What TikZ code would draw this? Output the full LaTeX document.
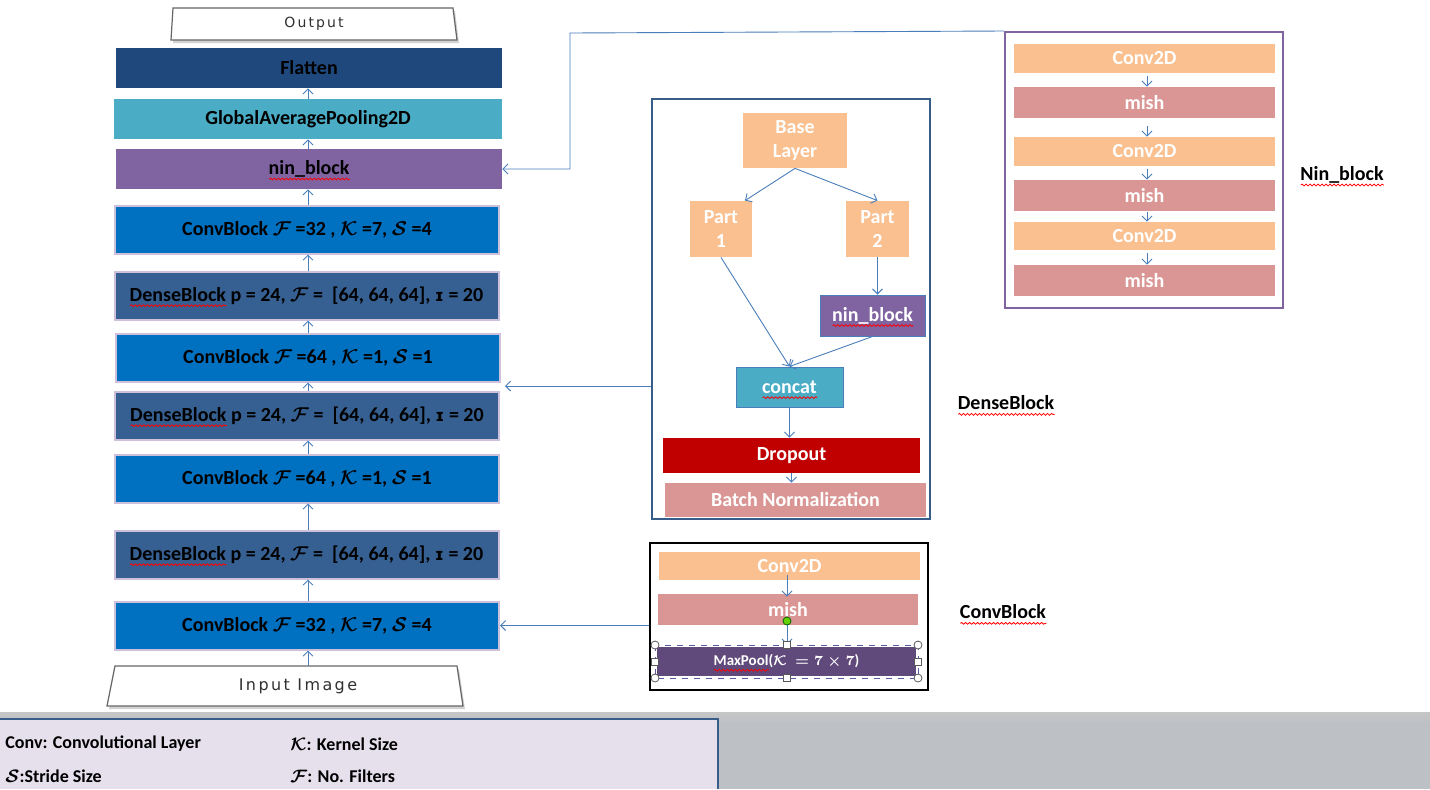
\documentclass[tikz,border=0pt]{standalone}
\usepackage{amsmath}
\usepackage{fontspec}
\setmainfont{Carlito}
\newfontfamily\djv{DejaVu Sans}
\newfontfamily\trapf[LetterSpace=15]{DejaVu Sans}
\usetikzlibrary{arrows.meta,calc,decorations.pathmorphing}
\definecolor{cFlat}{HTML}{1F497D}
\definecolor{cGap}{HTML}{4BACC6}
\definecolor{cNin}{HTML}{8064A2}
\definecolor{cCB}{HTML}{0070C0}
\definecolor{cDB}{HTML}{366092}
\definecolor{cBord}{HTML}{CCC0DA}
\definecolor{cOr}{HTML}{FAC090}
\definecolor{cPink}{HTML}{DA9694}
\definecolor{cRed}{HTML}{C00000}
\definecolor{cMax}{HTML}{604A7B}
\definecolor{arrowblue}{HTML}{4A7EBB}
\definecolor{cLeg}{HTML}{E5E0EC}
\definecolor{cGray}{HTML}{BDC0C4}
\definecolor{cDenseB}{HTML}{385D8A}
\definecolor{cTrap}{HTML}{303030}
\newsavebox\rwbox
\newlength\rwlen
\newcommand\rwave[1]{\sbox\rwbox{#1}\setlength\rwlen{\wd\rwbox}\smash{\rlap{\tikz[baseline=0pt]\draw[red, line width=0.4pt, fill=none, decorate, decoration={snake, amplitude=0.45pt, segment length=2pt}] (0pt,-2.2pt) -- (\rwlen,-2.2pt);}}\usebox\rwbox}
\newcommand\cbtext[3]{ConvBlock $\boldsymbol{\mathcal F}$ =#1 , $\boldsymbol{\mathcal K}$ =#2, $\boldsymbol{\mathcal S}$ =#3}
\newcommand\dbtext{\rwave{DenseBlock} p = 24, $\boldsymbol{\mathcal F}$ =\ \ [64, 64, 64], {\djv\bfseries\fontsize{8.3}{9}\selectfont ɪ} = 20}
\tikzset{
  blk/.style={rectangle, inner sep=0pt, font=\bfseries\fontsize{10}{11}\selectfont, text=black},
  cbk/.style={blk, fill=cCB, draw=cBord, line width=1pt, minimum width=192pt, minimum height=24pt},
  dbk/.style={blk, fill=cDB, draw=cBord, line width=1pt, minimum width=192pt, minimum height=24pt},
  wblk/.style={rectangle, inner sep=0pt, font=\bfseries\fontsize{10}{12}\selectfont, text=white, align=center},
  arr/.style={draw=arrowblue, line width=0.45pt, -{Straight Barb[length=2.5pt,width=5pt]}},
  trapshape/.style={fill=white, draw=gray!80!black, line width=0.6pt},
  lbl/.style={font=\bfseries\fontsize{10}{11}\selectfont, text=black, inner sep=0pt},
  leg/.style={font=\bfseries\fontsize{9}{10}\selectfont, text=black, inner sep=0pt, anchor=west},
  handle/.style={fill=white, draw=gray!70!black, line width=0.4pt},
}
\begin{document}
\begin{tikzpicture}[x=0.5pt,y=-0.5pt]
\useasboundingbox (0,0) rectangle (1430,789);
\fill[white] (0,0) rectangle (1430,789);

% ---------- bottom legend area ----------
\shade[top color=gray!45, bottom color=cGray] (0,712) rectangle (1430,724);
\fill[cGray] (0,722) rectangle (1430,789);
\fill[cLeg] (0,718) rectangle (718,789);
\draw[cDenseB, line width=1pt] (0,718.5) -- (718,718.5) -- (718,789);
\node[leg] (l1) at (5,744) {Conv: Convolutional Layer};
\node[leg] (l2) at (290,744) {$\boldsymbol{\mathcal K}$: Kernel Size};
\node[leg] (l3) at (5,776) {$\boldsymbol{\mathcal S}$:Stride Size};
\node[leg] (l4) at (290,776) {$\boldsymbol{\mathcal F}$: No. Filters};

% ---------- left column ----------
\fill[gray!35] (175,11) -- (455,11) -- (459,43) -- (173,43) -- cycle;
\draw[trapshape] (173,8) -- (453,8) -- (457,40) -- (171,40) -- cycle;
\node[font=\trapf\fontsize{7}{8}\selectfont, text=cTrap, inner sep=0pt] (outp) at (314,24) {Output};

\fill[gray!35] (117,669) -- (459,669) -- (465,709) -- (109,709) -- cycle;
\draw[trapshape] (115,666) -- (457,666) -- (463,706) -- (107,706) -- cycle;
\node[font=\trapf\fontsize{8}{9}\selectfont, text=cTrap, inner sep=0pt, minimum width=170pt, minimum height=20pt] (inp) at (298,686) {Input Image};

\node[blk, fill=cFlat, minimum width=193pt, minimum height=20pt] (flatten) at (309,68) {Flatten};
\node[blk, fill=cGap, minimum width=194pt, minimum height=20pt] (gap) at (308,119) {GlobalAveragePooling2D};
\node[blk, fill=cNin, minimum width=193pt, minimum height=20pt] (nin) at (309,169) {\rwave{nin\_block}};
\node[cbk] (cb1) at (307,229.5) {\cbtext{32}{7}{4}};
\node[dbk] (db1) at (306.5,295.5) {\dbtext};
\node[cbk] (cb2) at (308,357.5) {\cbtext{64}{1}{1}};
\node[dbk] (db2) at (307,415.5) {\dbtext};
\node[cbk] (cb3) at (307,478.5) {\cbtext{64}{1}{1}};
\node[dbk] (db3) at (306.5,554.5) {\dbtext};
\node[cbk] (cb4) at (307,625.5) {\cbtext{32}{7}{4}};

\coordinate (ax) at (308,0);
\draw[arr] (gap.north -| ax) -- (flatten.south -| ax);
\draw[arr] (nin.north -| ax) -- (gap.south -| ax);
\draw[arr] (cb1.north -| ax) -- (nin.south -| ax);
\draw[arr] (db1.north -| ax) -- (cb1.south -| ax);
\draw[arr] (cb2.north -| ax) -- (db1.south -| ax);
\draw[arr] (db2.north -| ax) -- (cb2.south -| ax);
\draw[arr] (cb3.north -| ax) -- (db2.south -| ax);
\draw[arr] (db3.north -| ax) -- (cb3.south -| ax);
\draw[arr] (cb4.north -| ax) -- (db3.south -| ax);
\draw[arr] (inp.north -| ax) -- (cb4.south -| ax);

% ---------- Nin_block panel ----------
\node[draw=cNin, line width=1pt, fill=white, minimum width=139pt, minimum height=138pt, inner sep=0pt] (ninpanel) at (1144,170) {};
\node[wblk, fill=cOr, minimum width=130.5pt, minimum height=14.5pt] (n1) at (1144.5,58.5) {Conv2D};
\node[wblk, fill=cPink, minimum width=130.5pt, minimum height=15.5pt] (n2) at (1144.5,102.5) {mish};
\node[wblk, fill=cOr, minimum width=130.5pt, minimum height=14.5pt] (n3) at (1144.5,151.5) {Conv2D};
\node[wblk, fill=cPink, minimum width=130.5pt, minimum height=15.5pt] (n4) at (1144.5,195.5) {mish};
\node[wblk, fill=cOr, minimum width=130.5pt, minimum height=14pt] (n5) at (1144.5,236) {Conv2D};
\node[wblk, fill=cPink, minimum width=130.5pt, minimum height=15.5pt] (n6) at (1144.5,280.5) {mish};
\coordinate (nx) at (1147,0);
\draw[arr] ([yshift=-1.5pt]n1.south -| nx) -- (n2.north -| nx);
\draw[arr] ([yshift=-4pt]n2.south -| nx) -- (n3.north -| nx);
\draw[arr] ([yshift=-1.5pt]n3.south -| nx) -- (n4.north -| nx);
\draw[arr] ([yshift=-0.5pt]n4.south -| nx) -- (n5.north -| nx);
\draw[arr] ([yshift=-1.5pt]n5.south -| nx) -- (n6.north -| nx);
\node[lbl] (ninlbl) at (1342,175) {\rwave{Nin\_block}};
\coordinate (nc) at (570,33);
\draw[arr] (ninpanel.north west) -- (nc) |- (nin.east);

% ---------- DenseBlock panel ----------
\node[draw=cDenseB, line width=1pt, fill=white, minimum width=139pt, minimum height=210pt, inner sep=0pt] (densepanel) at (791,309) {};
\node[wblk, fill=cOr, minimum width=52pt, minimum height=27.5pt] (base) at (795,140.5) {Base\\Layer};
\node[wblk, fill=cOr, minimum width=31pt, minimum height=28pt] (p1) at (721,229) {Part\\1};
\node[wblk, fill=cOr, minimum width=31.5pt, minimum height=28pt] (p2) at (877.5,229) {Part\\2};
\node[wblk, fill=cNin, draw=arrowblue, line width=0.5pt, minimum width=52.5pt, minimum height=20.5pt] (dnin) at (872.5,315.5) {\rwave{nin\_block}};
\node[wblk, fill=cGap, draw=arrowblue, line width=0.5pt, minimum width=53.5pt, minimum height=20pt] (concat) at (789.5,387) {\rwave{concat}};
\node[wblk, fill=cRed, minimum width=128.5pt, minimum height=17.5pt] (dropout) at (791.5,455.5) {Dropout};
\node[wblk, fill=cPink, minimum width=130.5pt, minimum height=17pt] (bn) at (795.5,500) {Batch Normalization};
\draw[arr] (base.south) -- ([xshift=12pt]p1.north);
\draw[arr] (base.south) -- (p2.north);
\draw[arr] (p1.south) -- (concat.north);
\draw[arr] (p2.south) -- (p2.south |- dnin.north);
\draw[arr] (dnin.south) -- (concat.north);
\draw[arr] (concat.south) -- (concat.south |- dropout.north);
\draw[arr] (dropout.south) -- (dropout.south |- bn.north);
\node[lbl] (denselbl) at (1006,403) {\rwave{DenseBlock}};
\coordinate (dtarget) at (505,386);
\draw[arr] (densepanel.west |- dtarget) -- (dtarget);

% ---------- ConvBlock panel ----------
\node[draw=black, line width=1.2pt, fill=white, minimum width=139pt, minimum height=73.5pt, inner sep=0pt] (convpanel) at (789,616.5) {};
\node[wblk, fill=cOr, minimum width=130.5pt, minimum height=14pt] (cconv) at (789.5,566) {Conv2D};
\node[wblk, fill=cPink, minimum width=130pt, minimum height=15.5pt] (cmish) at (788,609.5) {mish};
\node[wblk, fill=cMax, minimum width=129.5pt, minimum height=14.5pt, font=\bfseries\fontsize{7.5}{9}\selectfont] (cmax) at (786.5,661.5) {\rwave{MaxPool}({\boldmath$\mathcal K\,=7\times 7$})};
\coordinate (cx) at (787,0);
\draw[arr] ([yshift=2.5pt]cconv.south -| cx) -- ([yshift=-1.5pt]cmish.north -| cx);
\draw[arr] ([yshift=2pt]cmish.south -| cx) -- ([yshift=1pt]cmax.north -| cx);
\draw[gray!70!blue, dashed, line width=0.5pt] (655,645) rectangle (918,678);
\foreach \hx/\hy in {655/645, 918/645, 655/678, 918/678}
  \draw[handle] (\hx,\hy) circle (2pt);
\foreach \hx/\hy in {787/645, 787/678, 655/661.5, 918/661.5}
  \draw[handle] (\hx-3.5,\hy-3.5) rectangle (\hx+3.5,\hy+3.5);
\draw[fill=green!70!black!60!yellow, draw=green!40!black, line width=0.4pt] (787,621) circle (2pt);
\node[lbl] (convlbl) at (1003,612) {\rwave{ConvBlock}};
\draw[arr] (convpanel.west |- cb4.east) -- (cb4.east);
\end{tikzpicture}
\end{document}
